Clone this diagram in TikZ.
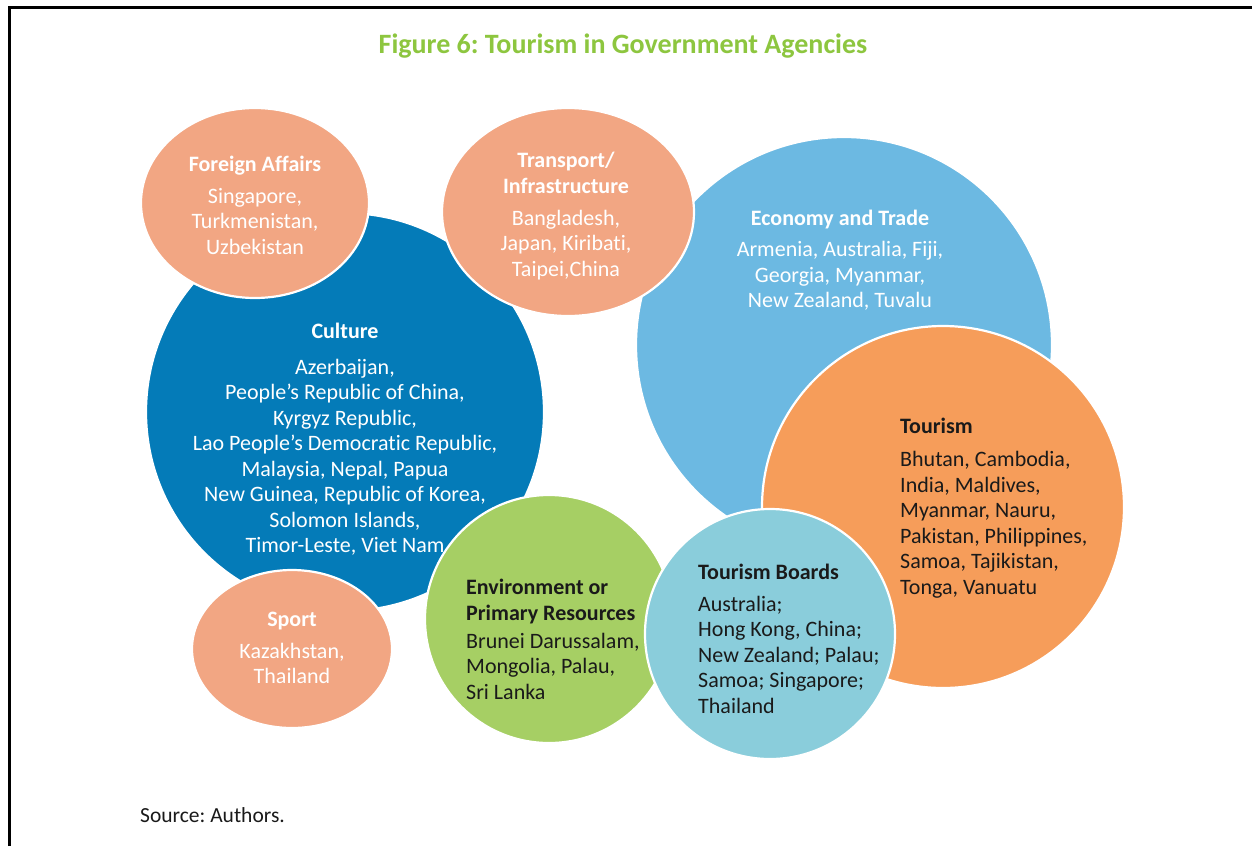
\documentclass[tikz,border=0pt]{standalone}
\usepackage{fontspec}
\setmainfont{Carlito}[Ligatures={NoCommon,TeX}]
\usetikzlibrary{shapes.geometric}
\definecolor{salmon}{HTML}{F2A683}
\definecolor{culture}{HTML}{047BB8}
\definecolor{economy}{HTML}{6CB9E2}
\definecolor{tourism}{HTML}{F69D5A}
\definecolor{envgreen}{HTML}{A6CF64}
\definecolor{boards}{HTML}{8ACDDB}
\definecolor{titlegreen}{HTML}{8DC63F}
\definecolor{darktext}{HTML}{1A1A1A}
\tikzset{
  bubble/.style={circle, draw=white, line width=2.2pt, inner sep=0pt},
  oval/.style={ellipse, draw=white, line width=2.2pt, inner sep=0pt},
  bodytext/.style={font=\fontsize{22}{25.5}\selectfont, inner sep=0pt},
  whitetext/.style={bodytext, text=white, align=center},
  blacktext/.style={bodytext, text=darktext, align=left, anchor=west},
}
\begin{document}
\frenchspacing
\begin{tikzpicture}[x=1pt,y=-1pt]
\useasboundingbox (0,0) rectangle (1252,846);
\fill[white] (0,0) rectangle (1252,846);
% frame
\draw[line width=2.6pt, black] (9.7,846) -- (9.7,7.3) -- (1252,7.3);
% title
\node[font=\fontsize{28}{30}\selectfont\bfseries, text=titlegreen, anchor=base, inner sep=0pt] (title) at (623,53) {Figure 6: Tourism in Government Agencies};
% bubbles
\node[bubble, fill=economy, minimum size=416pt] (economy) at (844,345) {};
\node[bubble, fill=tourism, minimum size=362pt] (tourism) at (943,507) {};
\node[bubble, fill=culture, minimum size=398pt] (culture) at (345,412) {};
\node[oval, fill=salmon, minimum width=228pt, minimum height=190pt] (foreign) at (255,203) {};
\node[oval, fill=salmon, minimum width=252pt, minimum height=208pt] (transport) at (568,212) {};
\node[oval, fill=salmon, minimum width=200pt, minimum height=158pt] (sport) at (292,649) {};
\node[bubble, fill=envgreen, minimum size=248pt] (environment) at (549,619) {};
\node[bubble, fill=boards, minimum size=250pt] (boards) at (770,634) {};
% texts
\node[whitetext] (foreignT) at (255,205) {\textbf{Foreign Affairs}\\[6.5pt]Singapore,\\Turkmenistan,\\Uzbekistan};
\node[whitetext] (transportT) at (566,216) {\textbf{Transport/}\\\textbf{Infrastructure}\\[6.5pt]Bangladesh,\\Japan, Kiribati,\\Taipei,China};
\node[whitetext] (economyT) at (840,260.5) {\textbf{Economy and Trade}\\[5.5pt]Armenia, Australia, Fiji,\\Georgia, Myanmar,\\New Zealand, Tuvalu};
\node[whitetext] (cultureT) at (345,439) {\textbf{Culture}\\[10.5pt]Azerbaijan,\\People’s Republic of China,\\Kyrgyz Republic,\\Lao People’s Democratic Republic,\\Malaysia, Nepal, Papua\\New Guinea, Republic of Korea,\\Solomon Islands,\\Timor-Leste, Viet Nam};
\node[blacktext] (tourismT) at (900,508) {\textbf{Tourism}\\[7.5pt]Bhutan, Cambodia,\\India, Maldives,\\Myanmar, Nauru,\\Pakistan, Philippines,\\Samoa, Tajikistan,\\Tonga, Vanuatu};
\node[blacktext] (boardsT) at (698,638.5) {\textbf{Tourism Boards}\\[6.5pt]Australia;\\Hong Kong, China;\\New Zealand; Palau;\\Samoa; Singapore;\\Thailand};
\node[blacktext] (environmentT) at (466,639.5) {\textbf{Environment or}\\\textbf{Primary Resources}\\[2.5pt]Brunei Darussalam,\\Mongolia, Palau,\\Sri Lanka};
\node[whitetext] (sportT) at (292,648) {\textbf{Sport}\\[6pt]Kazakhstan,\\Thailand};
% source
\node[font=\fontsize{21.5}{24}\selectfont, text=darktext, anchor=base west, inner sep=0pt] (source) at (140,822) {Source: Authors.};
\end{tikzpicture}
\end{document}
